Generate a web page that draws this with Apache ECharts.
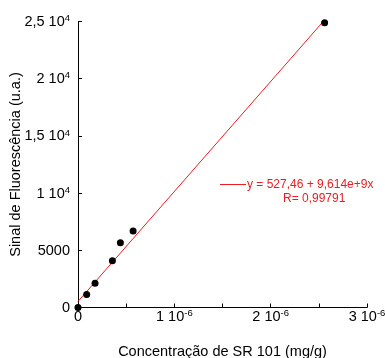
<!DOCTYPE html>
<html>
<head>
<meta charset="utf-8">
<script src="https://cdn.jsdelivr.net/npm/echarts@6/dist/echarts.min.js"></script>
<style>
  html, body { margin: 0; padding: 0; background: #fff; }
  #chart { width: 385px; height: 358px; }
</style>
</head>
<body>
<div id="chart"></div>
<script>
// Calibration points: concentration (mg/g) vs fluorescence signal (a.u.)
const concentration = [0, 0.09e-6, 0.177e-6, 0.357e-6, 0.44e-6, 0.572e-6, 2.56e-6];
const signal = [0, 1130, 2130, 4080, 5650, 6690, 24900];

// Linear fit reported for the calibration
const fitIntercept = 527.46;
const fitSlope = 9.614e9;
const fitLabel = 'y = 527,46 + 9,614e+9x';
const fitR = 'R= 0,99791';

// Axis tick labels
const yTickLabels = { 0: '{n|0}', 5000: '{n|5000}', 10000: '{n|1 10}{sup|4}', 15000: '{n|1,5 10}{sup|4}', 20000: '{n|2 10}{sup|4}', 25000: '{n|2,5 10}{sup|4}' };
const xTickLabels = { 0: '{n|0}', 1: '{n|1 10}{sup|-6}', 2: '{n|2 10}{sup|-6}', 3: '{n|3 10}{sup|-6}' };

const RED = '#ec1c24';
const FONT = '"Liberation Sans", Arial, sans-serif';

const xFit = [0, concentration[concentration.length - 1]];
const fitLine = xFit.map(x => [x, fitIntercept + fitSlope * x]);

const richLabel = {
  n: { fontSize: 14.5, fontFamily: FONT, color: '#000', lineHeight: 16, verticalAlign: 'bottom' },
  sup: { fontSize: 9.5, fontFamily: FONT, color: '#000', lineHeight: 16, verticalAlign: 'top' }
};

const chart = echarts.init(document.getElementById('chart'));
chart.setOption({
  animation: false,
  backgroundColor: '#fff',
  textStyle: { fontFamily: FONT },
  grid: { left: 78, right: 18, top: 21.5, bottom: 50.5, containLabel: false, outerBoundsMode: 'none' },
  legend: {
    data: [{ name: fitLabel, icon: 'rect' }],
    left: 220, top: 178.5, padding: 0,
    itemWidth: 26, itemHeight: 1, itemGap: 0,
    itemStyle: { color: RED },
    textStyle: { color: RED, fontSize: 12, fontFamily: FONT, padding: [0, 0, 0, -4] },
    selectedMode: false
  },
  title: {
    text: fitR, left: 283, top: 192.5, padding: 0,
    textStyle: { color: RED, fontSize: 12, fontWeight: 'normal', fontFamily: FONT }
  },
  xAxis: {
    type: 'value', min: 0, max: 3e-6, interval: 0.5e-6,
    name: 'Concentração de SR 101 (mg/g)', nameLocation: 'middle', nameGap: 37, nameMoveOverlap: false,
    nameTextStyle: { fontSize: 14.5, color: '#000', fontFamily: FONT },
    axisLine: { lineStyle: { color: '#000', width: 1 } },
    axisTick: { inside: true, length: 4, lineStyle: { color: '#000' } },
    splitLine: { show: false },
    axisLabel: {
      color: '#000', fontSize: 14.5, margin: 1, fontFamily: FONT, rich: richLabel,
      formatter: v => {
        const n = v / 1e-6;
        const k = Math.round(n);
        return Math.abs(n - k) < 1e-6 ? (xTickLabels[k] || '') : '';
      }
    }
  },
  yAxis: {
    type: 'value', min: 0, max: 25000, interval: 5000,
    name: 'Sinal de Fluorescência (u.a.)', nameLocation: 'middle', nameGap: 55, nameRotate: 90, nameMoveOverlap: false,
    nameTextStyle: { fontSize: 14.5, color: '#000', fontFamily: FONT },
    axisLine: { show: true, lineStyle: { color: '#000', width: 1 } },
    axisTick: { show: true, inside: true, length: 4, lineStyle: { color: '#000' } },
    splitLine: { show: false },
    axisLabel: {
      color: '#000', fontSize: 14.5, margin: 8, fontFamily: FONT, rich: richLabel,
      formatter: v => yTickLabels[v] !== undefined ? yTickLabels[v] : ''
    }
  },
  series: [
    {
      name: fitLabel, type: 'line', data: fitLine, symbol: 'none',
      lineStyle: { color: RED, width: 1 }, itemStyle: { color: RED }, z: 2
    },
    {
      name: 'dados', type: 'scatter', data: concentration.map((x, i) => [x, signal[i]]),
      symbol: 'circle', symbolSize: 7, itemStyle: { color: '#000', opacity: 1 }, clip: false, z: 3
    }
  ]
});
</script>
</body>
</html>
